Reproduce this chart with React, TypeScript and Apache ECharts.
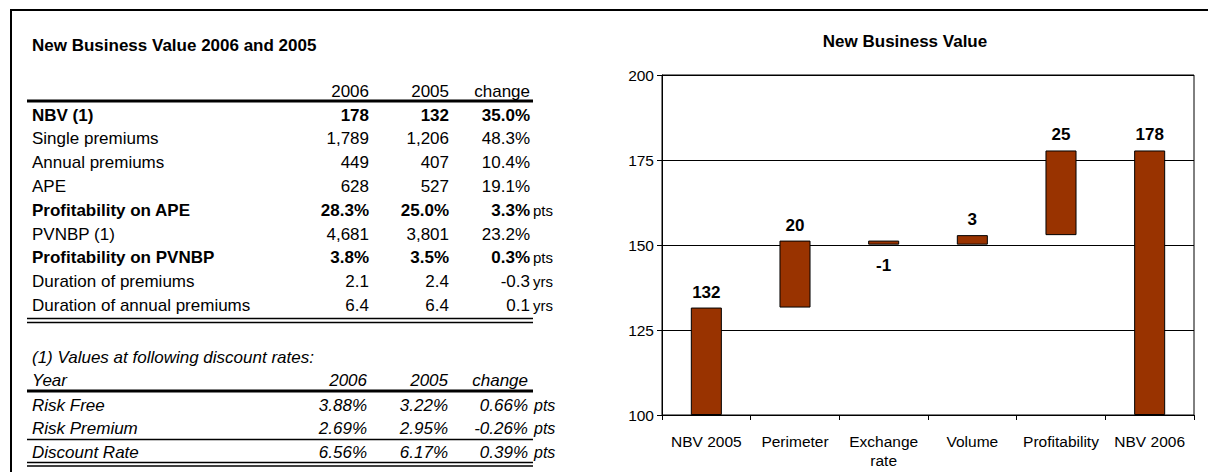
import React, { useEffect, useRef } from "react";
import * as echarts from "echarts";

// ---------- table data ----------
const tableTitle = "New Business Value 2006 and 2005";
const colHeaders = ["2006", "2005", "change"];
const rowLabels = [
  "NBV (1)",
  "Single premiums",
  "Annual premiums",
  "APE",
  "Profitability on APE",
  "PVNBP (1)",
  "Profitability on PVNBP",
  "Duration of premiums",
  "Duration of annual premiums",
];
const values2006 = ["178", "1,789", "449", "628", "28.3%", "4,681", "3.8%", "2.1", "6.4"];
const values2005 = ["132", "1,206", "407", "527", "25.0%", "3,801", "3.5%", "2.4", "6.4"];
const changes = ["35.0%", "48.3%", "10.4%", "19.1%", "3.3%", "23.2%", "0.3%", "-0.3", "0.1"];
const units = ["", "", "", "", "pts", "", "pts", "yrs", "yrs"];
const boldRows = [true, false, false, false, true, false, true, false, false];

const rateTitle = "(1) Values at following discount rates:";
const rateHeaders = ["Year", "2006", "2005", "change"];
const rateLabels = ["Risk Free", "Risk Premium", "Discount Rate"];
const rate2006 = ["3.88%", "2.69%", "6.56%"];
const rate2005 = ["3.22%", "2.95%", "6.17%"];
const rateChange = ["0.66%", "-0.26%", "0.39%"];
const rateUnit = "pts";

// ---------- chart data ----------
const chartTitle = "New Business Value";
const categories = ["NBV 2005", "Perimeter", "Exchange\nrate", "Volume", "Profitability", "NBV 2006"];
const barBottom = [100, 131.6, 150.1, 150.1, 152.9, 100];
const barTop = [131.6, 151.3, 151.3, 152.9, 177.8, 177.8];
const barLabels = ["132", "20", "-1", "3", "25", "178"];
const yTicks = { min: 100, max: 200, interval: 25 };

const FONT = "'Liberation Sans', Arial, sans-serif";

function txt(text: string, x: number, y: number, opts: any = {}) {
  return {
    type: "text",
    x,
    y,
    silent: true,
    style: {
      text,
      fill: "#000",
      fontFamily: FONT,
      fontSize: opts.size || 17,
      fontWeight: opts.bold ? "bold" : "normal",
      fontStyle: opts.italic ? "italic" : "normal",
      align: opts.align || "left",
      verticalAlign: "middle",
    },
  };
}

function hline(x1: number, x2: number, y: number, w: number) {
  return {
    type: "line",
    silent: true,
    shape: { x1, y1: y, x2, y2: y },
    style: { stroke: "#000", lineWidth: w },
  };
}

export default function App() {
  const ref = useRef<HTMLDivElement>(null);

  useEffect(() => {
    if (!ref.current) return;
    const chart = echarts.init(ref.current, null, { renderer: "svg" });

    const labelX = 32;
    const c1 = 369;
    const c2 = 449;
    const c3 = 530;
    const unitX = 533;
    const lineL = 27;
    const lineR = 533;

    const g: any[] = [];
    // frame
    g.push({ type: "line", silent: true, shape: { x1: 10, y1: 10, x2: 1208, y2: 10 }, style: { stroke: "#000", lineWidth: 2 } });
    g.push({ type: "line", silent: true, shape: { x1: 11, y1: 10, x2: 11, y2: 472 }, style: { stroke: "#000", lineWidth: 2 } });

    g.push(txt(tableTitle, labelX, 45, { bold: true }));
    const headerY = 91;
    g.push(txt(colHeaders[0], c1, headerY, { align: "right" }));
    g.push(txt(colHeaders[1], c2, headerY, { align: "right" }));
    g.push(txt(colHeaders[2], c3, headerY, { align: "right" }));
    g.push(hline(lineL, lineR, 101, 3));

    const rowStart = 115;
    const rowStep = 23.8;
    rowLabels.forEach((lab, i) => {
      const y = rowStart + i * rowStep;
      const b = boldRows[i];
      g.push(txt(lab, labelX, y, { bold: b }));
      g.push(txt(values2006[i], c1, y, { bold: b, align: "right" }));
      g.push(txt(values2005[i], c2, y, { bold: b, align: "right" }));
      g.push(txt(changes[i], c3, y, { bold: b, align: "right" }));
      if (units[i]) g.push(txt(units[i], unitX, y, { size: 15 }));
    });
    g.push(hline(lineL, lineR, 318.5, 1.3));
    g.push(hline(lineL, lineR, 322.5, 1.3));

    g.push(txt(rateTitle, labelX, 357, { italic: true }));
    const yearY = 380;
    g.push(txt(rateHeaders[0], labelX, yearY, { italic: true }));
    g.push(txt(rateHeaders[1], c1 - 2, yearY, { italic: true, align: "right" }));
    g.push(txt(rateHeaders[2], c2 - 1, yearY, { italic: true, align: "right" }));
    g.push(txt(rateHeaders[3], c3 - 2, yearY, { italic: true, align: "right" }));
    g.push(hline(lineL, lineR, 391, 3));
    const rateYs = [405, 428, 452];
    rateLabels.forEach((lab, i) => {
      const y = rateYs[i];
      g.push(txt(lab, labelX, y, { italic: true }));
      g.push(txt(rate2006[i], c1 - 2, y, { italic: true, align: "right" }));
      g.push(txt(rate2005[i], c2 - 1, y, { italic: true, align: "right" }));
      g.push(txt(rateChange[i], c3 - 2, y, { italic: true, align: "right" }));
      g.push(txt(rateUnit, unitX + 1, y, { italic: true, size: 16 }));
    });
    g.push(hline(lineL, lineR, 439.5, 1.6));
    g.push(hline(lineL, lineR, 462.5, 1.3));
    g.push(hline(lineL, lineR, 466, 1.3));

    // chart title
    g.push(txt(chartTitle, 905, 41, { bold: true, size: 17, align: "center" }));

    const base = barBottom;
    const visible = barTop.map((t, i) => ({
      value: +(t - barBottom[i]).toFixed(2),
      label: {
        position: barLabels[i].startsWith("-") ? "bottom" : "top",
        distance: barLabels[i].startsWith("-") ? 12 : 7,
      },
    }));

    chart.setOption({
      animation: false,
      backgroundColor: "#fff",
      textStyle: { fontFamily: FONT },
      grid: {
        left: 662,
        right: 14,
        top: 75,
        bottom: 57,
        show: true,
        borderColor: "#000",
        borderWidth: 1,
        backgroundColor: "transparent",
      },
      xAxis: {
        type: "category",
        data: categories,
        axisLine: { show: true, lineStyle: { color: "#000", width: 1 } },
        axisTick: { show: true, length: 5, interval: 0, lineStyle: { color: "#000" } },
        axisLabel: {
          interval: 0,
          color: "#000",
          fontSize: 15.5,
          fontFamily: FONT,
          lineHeight: 19,
          margin: 17,
        },
      },
      yAxis: {
        type: "value",
        min: yTicks.min,
        max: yTicks.max,
        interval: yTicks.interval,
        axisLine: { show: true, lineStyle: { color: "#000", width: 1 } },
        axisTick: { show: true, length: 5, lineStyle: { color: "#000" } },
        axisLabel: { color: "#000", fontSize: 15.5, fontFamily: FONT, margin: 8 },
        splitLine: { show: true, lineStyle: { color: "#000", width: 1 } },
      },
      series: [
        {
          type: "bar",
          stack: "w",
          data: base,
          itemStyle: { color: "transparent", borderColor: "transparent" },
          silent: true,
          barWidth: "35%",
        },
        {
          type: "bar",
          stack: "w",
          data: visible,
          barWidth: "35%",
          itemStyle: { color: "#993300", borderColor: "#000", borderWidth: 1 },
          label: {
            show: true,
            color: "#000",
            fontWeight: "bold",
            fontSize: 17,
            fontFamily: FONT,
            formatter: (p: any) => barLabels[p.dataIndex],
          },
        },
      ],
      graphic: g,
    });

    return () => chart.dispose();
  }, []);

  return (
    <div
      ref={ref}
      style={{ position: "absolute", left: 0, top: 0, width: 1208, height: 472, background: "#fff" }}
    />
  );
}
